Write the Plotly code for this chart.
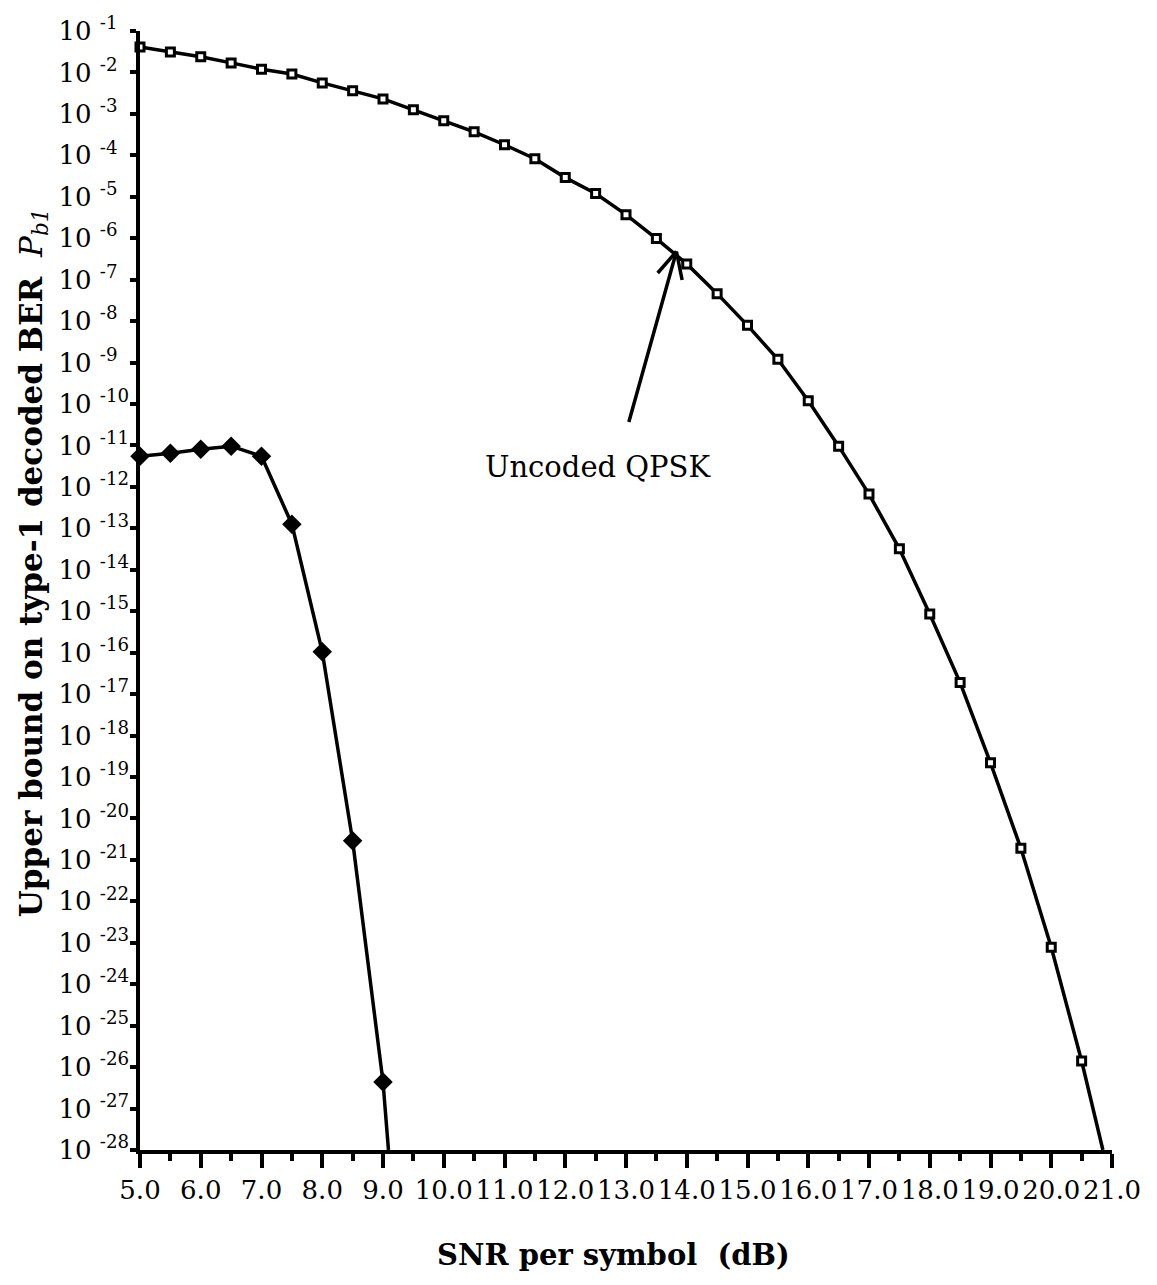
import plotly.graph_objects as go

# Uncoded QPSK (hollow squares), SNR per symbol in dB
qpsk_snr = [5.0, 5.5, 6.0, 6.5, 7.0, 7.5, 8.0, 8.5, 9.0, 9.5, 10.0, 10.5, 11.0, 11.5,
            12.0, 12.5, 13.0, 13.5, 14.0, 14.5, 15.0, 15.5, 16.0, 16.5, 17.0, 17.5,
            18.0, 18.5, 19.0, 19.5, 20.0, 20.5]
qpsk_ber = [4.1e-2, 3.1e-2, 2.4e-2, 1.7e-2, 1.2e-2, 9.2e-3, 5.6e-3, 3.6e-3, 2.3e-3,
            1.25e-3, 6.8e-4, 3.7e-4, 1.8e-4, 8.3e-5, 2.9e-5, 1.2e-5, 3.7e-6, 9.8e-7,
            2.4e-7, 4.6e-8, 7.9e-9, 1.2e-9, 1.2e-10, 9.6e-12, 6.7e-13, 3.2e-14,
            8.6e-16, 1.9e-17, 2.2e-19, 1.9e-21, 7.8e-24, 1.4e-26]
# where the QPSK line meets the bottom axis
qpsk_end_snr = [20.85]
qpsk_end_ber = [1e-28]

# Type-1 decoded BER upper bound (filled diamonds)
coded_snr = [5.0, 5.5, 6.0, 6.5, 7.0, 7.5, 8.0, 8.5, 9.0]
coded_ber = [5.5e-12, 6.5e-12, 8.1e-12, 9.6e-12, 5.5e-12, 1.26e-13, 1.05e-16, 2.9e-21, 4.4e-27]
coded_end_snr = [9.09]
coded_end_ber = [1e-28]

x_ticks = [5, 6, 7, 8, 9, 10, 11, 12, 13, 14, 15, 16, 17, 18, 19, 20, 21]
x_labels = ["5.0", "6.0", "7.0", "8.0", "9.0", "10.0", "11.0", "12.0", "13.0", "14.0",
            "15.0", "16.0", "17.0", "18.0", "19.0", "20.0", "21.0"]
y_exponents = list(range(-1, -29, -1))
y_ticks = [10.0 ** e for e in y_exponents]
# pad one-digit exponents with a figure space so the "10"s line up in a column
y_labels = [f"10 <sup>{e}{'' if e <= -10 else chr(0x2007)}</sup>" for e in y_exponents]

SERIF = "DejaVu Serif"

fig = go.Figure()

fig.add_trace(go.Scatter(
    x=qpsk_snr + qpsk_end_snr, y=qpsk_ber + qpsk_end_ber, mode="lines",
    line=dict(color="black", width=3.5), cliponaxis=False, showlegend=False,
))
fig.add_trace(go.Scatter(
    x=qpsk_snr, y=qpsk_ber, mode="markers",
    marker=dict(symbol="square", size=8, color="white", line=dict(color="black", width=3)),
    cliponaxis=False, showlegend=False,
))
fig.add_trace(go.Scatter(
    x=coded_snr + coded_end_snr, y=coded_ber + coded_end_ber, mode="lines",
    line=dict(color="black", width=3.5), cliponaxis=False, showlegend=False,
))
fig.add_trace(go.Scatter(
    x=coded_snr, y=coded_ber, mode="markers",
    marker=dict(symbol="diamond", size=15, color="black"),
    cliponaxis=False, showlegend=False,
))

# Arrow pointing to the QPSK curve (shaft plus two open barbs), with label
tip_x, tip_y = 13.83, -6.32
for dx, dy in [(-48, 172), (-20, 23), (6, 30)]:
    fig.add_annotation(
        x=tip_x, y=tip_y, xref="x", yref="y", text="",
        showarrow=True, arrowhead=0, arrowwidth=3.5, arrowcolor="black",
        ax=dx, ay=dy, standoff=0, startstandoff=0,
    )
fig.add_annotation(
    x=12.54, y=-11.52, xref="x", yref="y", text="Uncoded QPSK", showarrow=False,
    font=dict(family=SERIF, size=29, color="black"), xanchor="center", yanchor="middle",
)

# Axis titles
fig.add_annotation(
    x=-0.11, y=0.5245, xref="paper", yref="paper", textangle=-90, showarrow=False,
    text="<b>Upper bound on type-1 decoded BER</b>  <i>P<sub>b1</sub></i>",
    font=dict(family=SERIF, size=31, color="black"), xanchor="center", yanchor="middle",
)
fig.add_annotation(
    x=0.487, y=-0.094, xref="paper", yref="paper", showarrow=False,
    text="<b>SNR per symbol  (dB)</b>",
    font=dict(family=SERIF, size=29, color="black"), xanchor="center", yanchor="middle",
)

fig.update_xaxes(
    range=[5, 21], tickmode="array", tickvals=x_ticks, ticktext=x_labels, tickangle=0,
    showgrid=False, zeroline=False, showline=True, linecolor="black", linewidth=3.5,
    ticks="outside", ticklen=14, tickwidth=3.5, tickcolor="black",
    tickfont=dict(family=SERIF, size=26, color="black"),
    minor=dict(tickmode="linear", tick0=5, dtick=0.5, ticks="outside", ticklen=7,
               tickwidth=3.5, tickcolor="black", showgrid=False),
)
fig.update_yaxes(
    type="log", range=[-28, -1], tickmode="array", tickvals=y_ticks, ticktext=y_labels,
    showgrid=False, zeroline=False, showline=True, linecolor="black", linewidth=3.5,
    ticks="outside", ticklen=6, tickwidth=3.5, tickcolor="black", ticklabelstandoff=-4,
    tickfont=dict(family=SERIF, size=26, color="black"),
)

fig.update_layout(
    width=1157, height=1285, autosize=False,
    margin=dict(l=140, r=45, t=29, b=135),
    paper_bgcolor="white", plot_bgcolor="white",
)

fig.write_html("out.html")
